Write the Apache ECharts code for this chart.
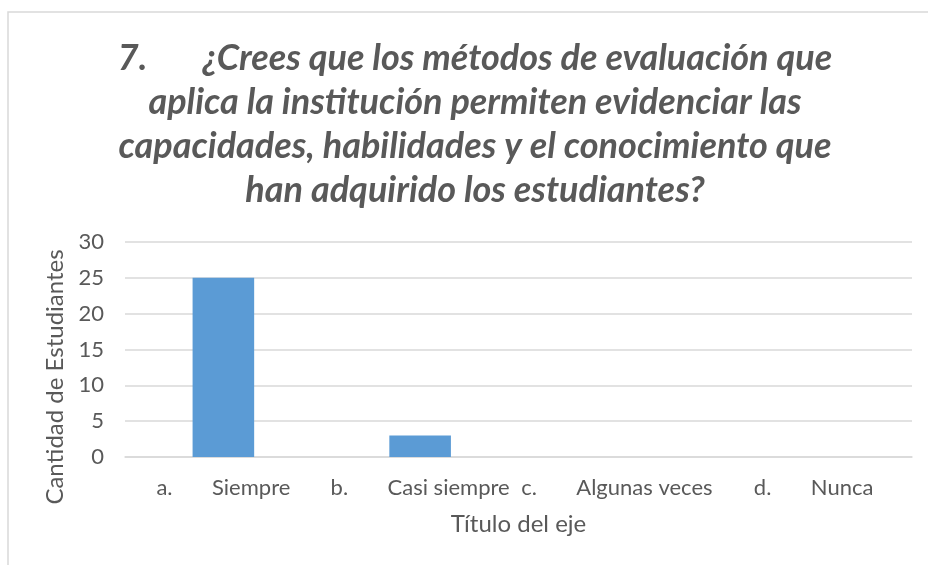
<!DOCTYPE html>
<html>
<head>
<meta charset="utf-8">
<script src="https://cdn.jsdelivr.net/npm/echarts@6/dist/echarts.min.js"></script>
<style>
  html, body { margin: 0; padding: 0; background: #fff; }
  #myChart { width: 928px; height: 565px; }
</style>
</head>
<body>
<div id="myChart"></div>
<script>
// datos
let categorias = ['a.       Siempre', 'b.       Casi siempre', 'c.       Algunas veces', 'd.       Nunca']
let valores = [25, 3, 0, 0]
let yTicks = { min: 0, max: 30, interval: 5 }

let titulo = '7.       ¿Crees que los métodos de evaluación que\naplica la institución permiten evidenciar las\ncapacidades, habilidades y el conocimiento que\nhan adquirido los estudiantes?'

let fuente = 'Lato, "Open Sans", sans-serif'
let gris = '#595959'

let myChart = echarts.init(document.getElementById('myChart'))

let option = {
    animation: false,
    graphic: [{
        type: 'rect',
        shape: { x: 8, y: 12, width: 940, height: 580 },
        style: { fill: 'none', stroke: '#d9d9d9', lineWidth: 1.5 }
    }],
    title: {
        text: titulo,
        left: 475,
        top: 36,
        padding: 0,
        textAlign: 'center',
        textStyle: {
            fontFamily: fuente,
            fontSize: 36,
            fontStyle: 'italic',
            fontWeight: 'bold',
            color: gris,
            lineHeight: 44
        }
    },
    grid: { left: 125, right: 16, top: 242, bottom: 108 },
    xAxis: {
        type: 'category',
        data: categorias,
        name: 'Título del eje',
        nameLocation: 'middle',
        nameGap: 55,
        nameTextStyle: { fontFamily: fuente, fontSize: 24, color: gris },
        axisLine: { lineStyle: { color: '#d9d9d9', width: 1.5 } },
        axisTick: { show: false },
        axisLabel: { fontFamily: fuente, fontSize: 22, color: gris, margin: 20, interval: 0 }
    },
    yAxis: {
        type: 'value',
        min: yTicks.min,
        max: yTicks.max,
        interval: yTicks.interval,
        name: 'Cantidad de Estudiantes',
        nameLocation: 'middle',
        nameGap: 54,
        nameTextStyle: { fontFamily: fuente, fontSize: 24, color: gris, padding: [0, 55, 0, 0] },
        axisLine: { show: false },
        axisTick: { show: false },
        axisLabel: { fontFamily: fuente, fontSize: 22, color: gris, margin: 21 },
        splitLine: { lineStyle: { color: '#d9d9d9', width: 1.5 } }
    },
    series: [{
        type: 'bar',
        data: valores,
        barWidth: '31.3%',
        itemStyle: { color: '#5b9bd5' }
    }]
}

myChart.setOption(option, true)
</script>
</body>
</html>
